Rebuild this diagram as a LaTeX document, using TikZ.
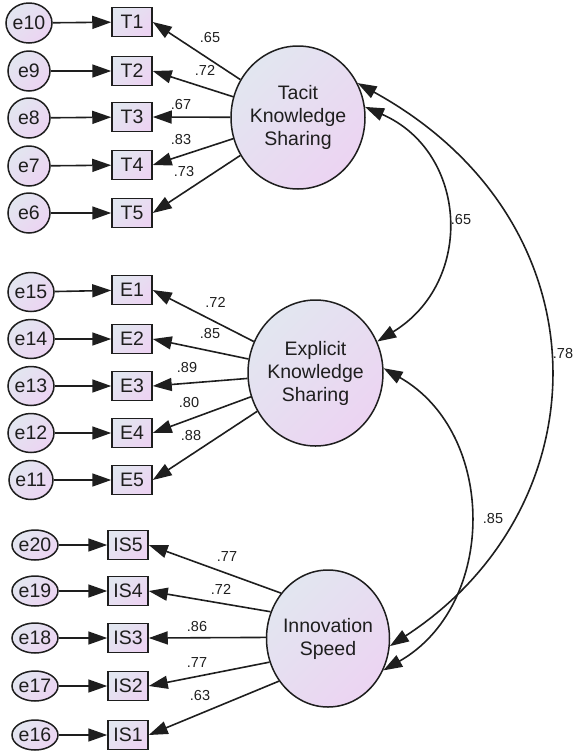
\documentclass[tikz,border=0pt]{standalone}
\usepackage{fontspec}
\setmainfont{Liberation Sans}
\usetikzlibrary{arrows.meta,shapes.geometric}
\definecolor{fillA}{RGB}{226,230,240}
\definecolor{fillB}{RGB}{236,212,242}
\definecolor{ink}{RGB}{30,30,30}
\begin{document}
\begin{tikzpicture}[x=1pt,y=1pt,
  >={Triangle[length=19pt,width=13pt]},
  grad/.style={top color=fillA, bottom color=fillB, shading angle=45},
  outline/.style={draw=ink, line width=1.5pt, text=ink},
  err/.style={ellipse, outline, grad, inner sep=0pt,
    font=\fontsize{19.5}{22}\selectfont},
  errT/.style={err, minimum width=42, minimum height=40},
  errE/.style={err, minimum width=44, minimum height=39},
  errI/.style={err, minimum width=44, minimum height=30},
  ind/.style={rectangle, outline, grad, inner sep=0pt,
    minimum width=40, minimum height=29,
    font=\fontsize{19.5}{22}\selectfont},
  lat/.style={ellipse, outline, grad, inner sep=-10pt, align=center,
    font=\fontsize{19.5}{23}\selectfont},
  arr/.style={->, draw=ink, line width=1.6pt},
  dbl/.style={<->, draw=ink, line width=1.6pt},
  wt/.style={text=ink, inner sep=0pt, font=\fontsize{14.5}{16}\selectfont}
]
\useasboundingbox (0,0) rectangle (577,-756);

% latent constructs
\node[lat, minimum width=134, minimum height=143] (tacit) at (298,-117.5) {Tacit\\Knowledge\\Sharing};
\node[lat, minimum width=135, minimum height=146] (explicit) at (315.5,-373) {Explicit\\Knowledge\\Sharing};
\node[lat, minimum width=123, minimum height=137] (innov) at (328,-638.5) {Innovation\\Speed};

% tacit knowledge sharing indicators
\foreach \n/\y in {1/22,2/71,3/117,4/165,5/213}
  \node[ind] (t\n) at (132,-\y) {T\n};
\node[errT] (e10) at (29,-23) {e10};
\node[errT] (e9)  at (29,-71) {e9};
\node[errT] (e8)  at (29,-118) {e8};
\node[errT] (e7)  at (29,-166) {e7};
\node[errT] (e6)  at (29,-213) {e6};

% explicit knowledge sharing indicators
\foreach \n/\y in {1/290,2/339,3/386,4/433,5/480}
  \node[ind] (x\n) at (132,-\y) {E\n};
\node[errE] (e15) at (31,-292) {e15};
\node[errE] (e14) at (31,-339) {e14};
\node[errE] (e13) at (31,-386) {e13};
\node[errE] (e12) at (31,-433) {e12};
\node[errE] (e11) at (31,-480) {e11};

% innovation speed indicators
\foreach \n/\y in {5/545,4/591,3/638,2/686,1/735}
  \node[ind] (s\n) at (128,-\y) {IS\n};
\node[errI] (e20) at (35,-545) {e20};
\node[errI] (e19) at (35,-591) {e19};
\node[errI] (e18) at (35,-638) {e18};
\node[errI] (e17) at (35,-686) {e17};
\node[errI] (e16) at (35,-735) {e16};

% error terms
\draw[arr] (e10) -- (t1);  \draw[arr] (e9) -- (t2);  \draw[arr] (e8) -- (t3);
\draw[arr] (e7) -- (t4);   \draw[arr] (e6) -- (t5);
\draw[arr] (e15) -- (x1);  \draw[arr] (e14) -- (x2); \draw[arr] (e13) -- (x3);
\draw[arr] (e12) -- (x4);  \draw[arr] (e11) -- (x5);
\draw[arr] (e20) -- (s5);  \draw[arr] (e19) -- (s4); \draw[arr] (e18) -- (s3);
\draw[arr] (e17) -- (s2);  \draw[arr] (e16) -- (s1);

% loadings
\foreach \n in {1,...,5} {
  \draw[arr] (tacit) -- (t\n.east);
  \draw[arr] (explicit) -- (x\n.east);
}
\draw[arr] (innov.136) -- (s5.east);
\draw[arr] (innov.155) -- (s4.east);
\draw[arr] (innov.179) -- (s3.east);
\draw[arr] (innov.202) -- (s2.east);
\draw[arr] (innov.221) -- (s1.east);

% loading estimates
\node[wt] (lt1) at (210,-38) {.65};
\node[wt] (lt2) at (205,-70) {.72};
\node[wt] (lt3) at (181,-105) {.67};
\node[wt] (lt4) at (181,-140) {.83};
\node[wt] (lt5) at (184,-172) {.73};
\node[wt] (lx1) at (215.5,-302) {.72};
\node[wt] (lx2) at (210,-334) {.85};
\node[wt] (lx3) at (187,-368) {.89};
\node[wt] (lx4) at (189,-403) {.80};
\node[wt] (lx5) at (191,-436) {.88};
\node[wt] (ls5) at (227,-557) {.77};
\node[wt] (ls4) at (221,-589) {.72};
\node[wt] (ls3) at (197,-627) {.86};
\node[wt] (ls2) at (197,-663) {.77};
\node[wt] (ls1) at (200,-695) {.63};

% correlations between constructs
\draw[dbl] (tacit.9) .. controls +(103,-45) and +(98,60) .. (explicit.27);
\draw[dbl] (tacit.30) .. controls +(253,-139) and +(214,139) .. (innov.-7);
\draw[dbl] (explicit.4) .. controls +(114,-65) and +(114,65) .. (innov.-30);
\node[wt] (r1) at (461,-220) {.65};
\node[wt] (r2) at (563,-354) {.78};
\node[wt] (r3) at (493,-519) {.85};
\end{tikzpicture}
\end{document}
